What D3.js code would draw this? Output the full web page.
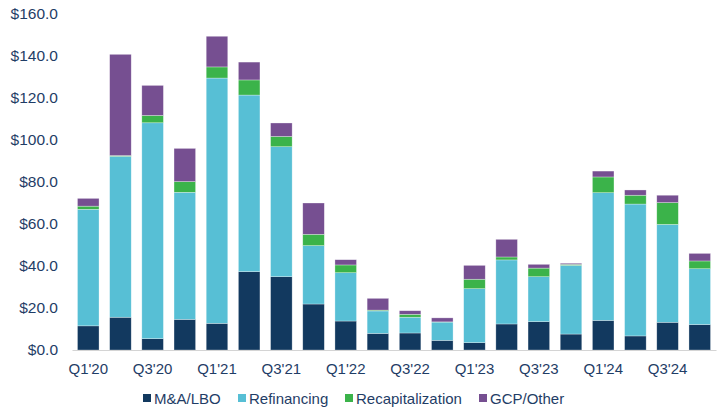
<!DOCTYPE html>
<html><head><meta charset="utf-8">
<script src="https://cdn.jsdelivr.net/npm/d3@7"></script>
<style>body{margin:0;background:#fff}svg{display:block}</style>
</head><body><svg id="c" width="720" height="411"></svg>
<script>
const quarters = ["Q1'20","Q2'20","Q3'20","Q4'20","Q1'21","Q2'21","Q3'21","Q4'21","Q1'22","Q2'22","Q3'22","Q4'22","Q1'23","Q2'23","Q3'23","Q4'23","Q1'24","Q2'24","Q3'24","Q4'24"];
const mnaLbo =      [11.5,15.6,5.4,14.6,12.7,37.3,34.9,21.9,13.8,7.9,8.1,4.6,3.5,12.4,13.5,7.6,14.1,6.7,13.2,12.1];
const refinancing = [55.5,76.6,102.8,60.5,116.8,84.1,61.9,27.8,23.0,10.7,7.5,8.7,25.7,30.5,21.4,32.7,60.8,62.8,46.6,26.6];
const recap =       [1.5,0.4,3.5,5.1,5.3,7.2,4.9,5.4,3.7,0.4,1.4,0.1,4.5,1.4,4.1,0.5,7.5,4.2,10.4,3.7];
const gcpOther =    [3.7,48.2,14.3,15.8,14.6,8.5,6.4,14.9,2.5,5.6,1.7,1.9,6.6,8.4,1.8,0.5,2.8,2.5,3.5,3.6];
const seriesNames = ["M&A/LBO","Refinancing","Recapitalization","GCP/Other"];
const colors = ["#12395f","#57bfd5","#3bb34a","#764f91"];
const yTicks = [0,20,40,60,80,100,120,140,160];

const svg = d3.select("#c");
const m = {l:72, r:4, t:14, b:61};
const W = 720, H = 411;
const x = d3.scaleBand().domain(quarters).range([m.l, W - m.r]).paddingInner(0.33).paddingOuter(0.17);
const y = d3.scaleLinear().domain([0,160]).range([H - m.b, m.t]);

const rows = quarters.map((q,i)=>({q, "M&A/LBO":mnaLbo[i], "Refinancing":refinancing[i], "Recapitalization":recap[i], "GCP/Other":gcpOther[i]}));
const stack = d3.stack().keys(seriesNames)(rows);

const g = svg.append("g");
stack.forEach((s,si)=>{
  g.selectAll(null).data(s).enter().append("rect")
    .attr("x", d=>x(d.data.q))
    .attr("width", x.bandwidth())
    .attr("y", d=>y(d[1]))
    .attr("height", d=>Math.max(0, y(d[0]) - y(d[1])))
    .attr("fill", colors[si])
    .attr("stroke", "#ffffff").attr("stroke-opacity", 0.5).attr("stroke-width", 0.6);
});

const font = "'Liberation Sans', Arial, sans-serif";
const txt = "#1f3d66";
// y axis
const ya = svg.append("g").attr("transform", `translate(${m.l - 14},0)`)
  .call(d3.axisLeft(y).tickValues(yTicks).tickSize(0).tickPadding(0).tickFormat(d=>"$"+d3.format(".1f")(d)));
ya.select(".domain").remove();
ya.selectAll("text").attr("font-family", font).attr("font-size", 15.5).attr("fill", txt);

// x axis
const xa = svg.append("g").attr("transform", `translate(0,${y(0)})`)
  .call(d3.axisBottom(x).tickValues(quarters.filter((d,i)=>i%2===0)).tickSize(0).tickPadding(13));
xa.select(".domain").attr("stroke", "#d4d4d4").attr("stroke-width", 1.2);
xa.selectAll("text").attr("font-family", font).attr("font-size", 15).attr("fill", txt);

// legend
const legX = [143, 238, 345, 479];
const leg = svg.append("g");
seriesNames.forEach((n,i)=>{
  leg.append("rect").attr("x", legX[i]).attr("y", 394).attr("width", 8).attr("height", 8).attr("fill", colors[i]);
  leg.append("text").attr("x", legX[i] + 11).attr("y", 403.5).text(n)
    .attr("font-family", font).attr("font-size", 15).attr("fill", txt);
});
</script></body></html>
